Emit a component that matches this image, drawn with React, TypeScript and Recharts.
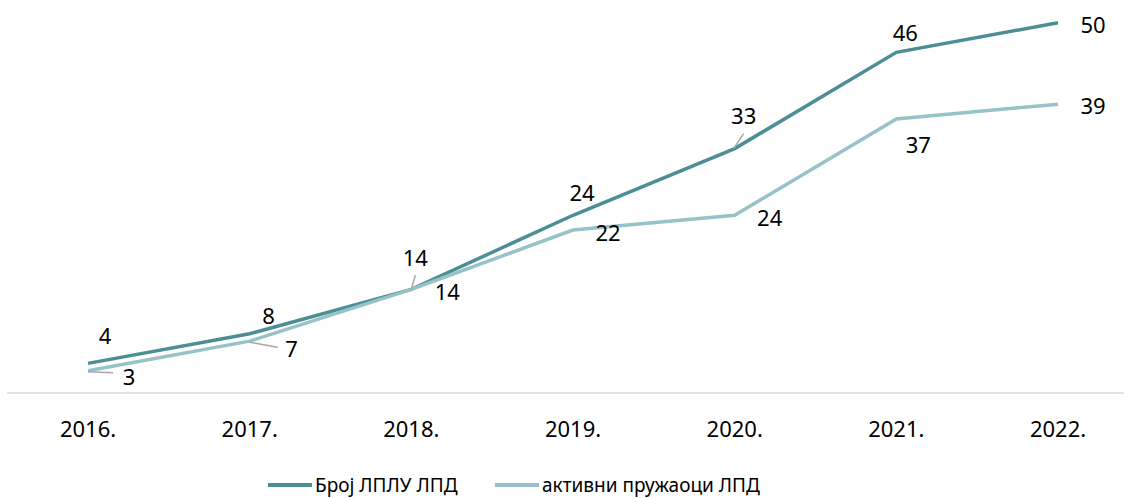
import { LineChart, Line, XAxis, YAxis, LabelList, Legend } from 'recharts'

const years = ['2016.', '2017.', '2018.', '2019.', '2020.', '2021.', '2022.']
const brojLplu = [4, 8, 14, 24, 33, 46, 50]
const aktivni = [3, 7, 14, 22, 24, 37, 39]

const seriesNames = ['Број ЛПЛУ ЛПД', 'активни пружаоци ЛПД']
const colors = ['#4d8d95', '#96c2c8']

const data = years.map((year, i) => ({ year, broj: brojLplu[i], aktivni: aktivni[i] }))

// label offsets from the point (Excel-style manual placement)
const offsetsBroj = [
  [17, -28], [19, -19], [4, -32], [9, -23], [9, -34], [9, -20], [35, 1],
]
const offsetsAktivni = [
  [41, 5], [42, 7], [36, 2], [35, 2], [35, 2], [22, 25], [35, 1],
]
// leader lines: [fromDx, fromDy, toDx, toDy]
const leadersBroj: Record<number, number[]> = { 2: [0, 0, 4, -14], 4: [-1, 0, 9, -15] }
const leadersAktivni: Record<number, number[]> = { 0: [0, 1, 25, 2], 1: [0, 1, 28, 6] }

const font = '"Noto Sans", sans-serif'

const makeLabel = (offsets: number[][], leaders: Record<number, number[]>) => (props: any) => {
  const { x, y, value, index } = props
  const [dx, dy] = offsets[index]
  const ld = leaders[index]
  return (
    <g>
      {ld && (
        <line x1={x + ld[0]} y1={y + ld[1]} x2={x + ld[2]} y2={y + ld[3]} stroke="#a6a6a6" strokeWidth={1.5} />
      )}
      <text
        x={x + dx}
        y={y + dy}
        textAnchor="middle"
        dominantBaseline="central"
        fontSize={22}
        fontFamily={font}
        fill="#000"
      >
        {value}
      </text>
    </g>
  )
}

const YearTick = (props: any) => {
  const { x, y, payload } = props
  return (
    <text x={x} y={y + 35} textAnchor="middle" dominantBaseline="central" fontSize={22} fontFamily={font} fill="#000">
      {payload.value}
    </text>
  )
}

const itemWidths = [227, 280]

const LegendContent = () => (
  <div
    style={{
      height: 40,
      boxSizing: 'border-box',
      paddingTop: 17,
      paddingLeft: 268,
      display: 'flex',
      alignItems: 'flex-start',
      fontFamily: font,
      fontSize: 19,
      lineHeight: '20px',
      color: '#000',
    }}
  >
    {seriesNames.map((name, i) => (
      <div key={name} style={{ display: 'flex', alignItems: 'center', width: itemWidths[i], height: 20 }}>
        <div style={{ width: 44, height: 3.5, background: colors[i], marginRight: 3 }} />
        <span>{name}</span>
      </div>
    ))}
  </div>
)

export default function App() {
  return (
    <div style={{ position: 'absolute', left: 0, top: 0, width: 1124, height: 498, overflow: 'hidden', background: '#fff' }}>
      <LineChart width={1140} height={498} data={data} margin={{ top: 0, right: 1, left: 7, bottom: 0 }}>
        <XAxis
          dataKey="year"
          height={65}
          tickLine={false}
          tickSize={0}
          tickMargin={0}
          axisLine={{ stroke: '#d9d9d9', strokeWidth: 1.5 }}
          padding={{ left: 81, right: 81 }}
          tick={<YearTick />}
          interval={0}
        />
        <YAxis hide domain={[0, 53.07]} />
        <Legend verticalAlign="bottom" content={<LegendContent />} wrapperStyle={{ left: 0, width: 1124, height: 40 }} />
        <Line
          dataKey="broj"
          name={seriesNames[0]}
          type="linear"
          stroke={colors[0]}
          strokeWidth={3.5}
          dot={false}
          isAnimationActive={false}
        >
          <LabelList dataKey="broj" content={makeLabel(offsetsBroj, leadersBroj)} />
        </Line>
        <Line
          dataKey="aktivni"
          name={seriesNames[1]}
          type="linear"
          stroke={colors[1]}
          strokeWidth={3.5}
          dot={false}
          isAnimationActive={false}
        >
          <LabelList dataKey="aktivni" content={makeLabel(offsetsAktivni, leadersAktivni)} />
        </Line>
      </LineChart>
    </div>
  )
}
